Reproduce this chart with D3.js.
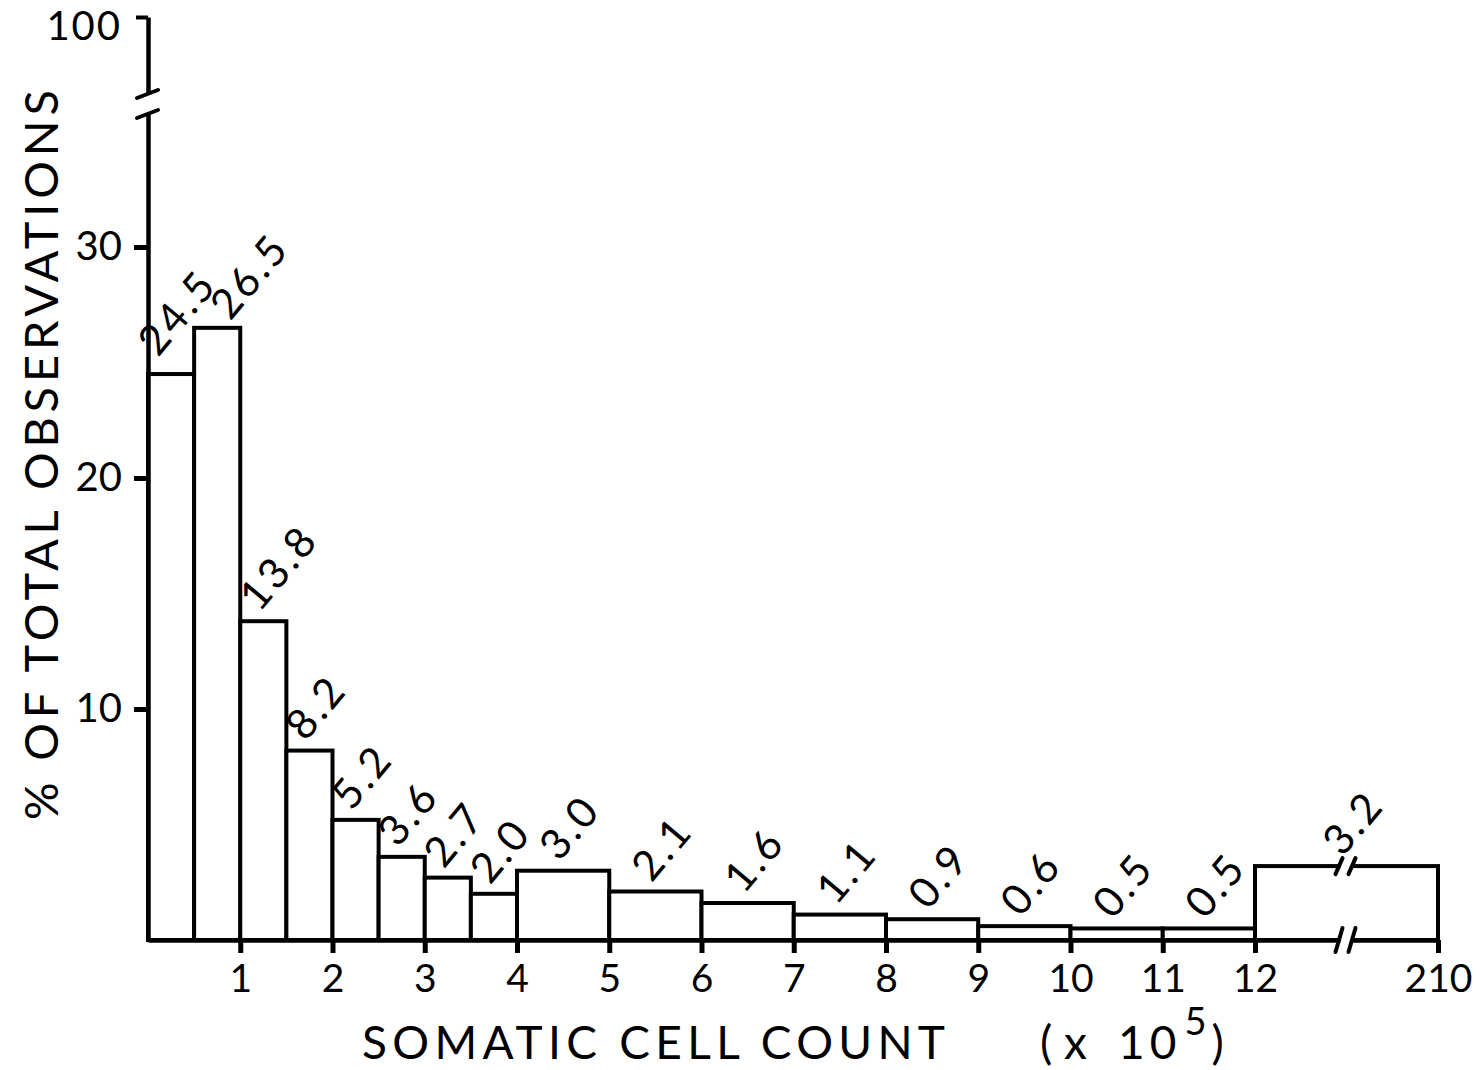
<!DOCTYPE html>
<html>
<head>
<meta charset="utf-8">
<script src="https://cdn.jsdelivr.net/npm/d3@7"></script>
<style>
  body { margin: 0; background: #fff; }
  svg { display: block; font-family: "Lato", "Liberation Sans", sans-serif; }
</style>
</head>
<body>
<div id="chart"></div>
<script>
// bin edges (x 10^5 cells) and % of observations per bin
const binEdges    = [0, 0.5, 1, 1.5, 2, 2.5, 3, 3.5, 4, 5, 6, 7, 8, 9, 10, 11, 12, 210];
const percents    = [24.5, 26.5, 13.8, 8.2, 5.2, 3.6, 2.7, 2.0, 3.0, 2.1, 1.6, 1.1, 0.9, 0.6, 0.5, 0.5, 3.2];
const valueLabels = ["24.5", "26.5", "13.8", "8.2", "5.2", "3.6", "2.7", "2.0", "3.0", "2.1", "1.6", "1.1", "0.9", "0.6", "0.5", "0.5", "3.2"];
const xTicks      = [1, 2, 3, 4, 5, 6, 7, 8, 9, 10, 11, 12, 210];
const yTicks      = [10, 20, 30];
const yTopTick    = [100];

const W = 1480, H = 1070;
const FONT = "Lato, 'Liberation Sans', sans-serif";
const svg = d3.select("#chart").append("svg").attr("width", W).attr("height", H);
svg.append("rect").attr("width", W).attr("height", H).attr("fill", "#fff");

// broken x scale: 0-12 linear, then one jump to 210
const x = d3.scaleLinear().domain([0, 12, 210]).range([148, 1255, 1438]);
// lower y segment runs up to the break, upper segment only carries 100
const y = d3.scaleLinear().domain([0, 35.8]).range([940, 113]);
const yHi = d3.scaleLinear().domain([96.5, 100]).range([93, 17]);

const bins = percents.map((v, i) => ({x0: binEdges[i], x1: binEdges[i + 1], v: v, label: valueLabels[i]}));

// label offsets: default just left of bar centre, pushed apart when a
// narrow bar is followed by a taller narrow bar (labels would collide)
bins.forEach(b => { b.dx = -4; b.dy = -8; });
bins.forEach((b, i) => {
  const n = bins[i + 1];
  if (!n) return;
  const narrow = (b.x1 - b.x0) < 1 && (n.x1 - n.x0) < 1;
  if (narrow && n.v > b.v) {
    b.dx = -13; b.dy = -16;
    n.dx = 13;  n.dy = -6;
  }
});

// bars
svg.append("g")
  .selectAll("rect")
  .data(bins)
  .join("rect")
    .attr("x", d => x(d.x0))
    .attr("y", d => y(d.v))
    .attr("width", d => x(d.x1) - x(d.x0))
    .attr("height", d => y(0) - y(d.v))
    .attr("fill", "#fff")
    .attr("stroke", "#000")
    .attr("stroke-width", 4);

// value labels, slanted
svg.append("g")
  .selectAll("text")
  .data(bins)
  .join("text")
    .attr("transform", d => {
      const cx = (x(d.x0) + x(d.x1)) / 2 + d.dx;
      const cy = y(d.v) + d.dy;
      return "translate(" + cx + "," + cy + ") rotate(-50)";
    })
    .attr("font-size", 42)
    .attr("letter-spacing", 3)
    .text(d => d.label);

// x axis
const xAxis = svg.append("g")
  .attr("transform", "translate(0," + y(0) + ")")
  .call(d3.axisBottom(x).tickValues(xTicks).tickFormat(d3.format("d")).tickSize(13).tickSizeOuter(0).tickPadding(11));
xAxis.select(".domain").attr("stroke-width", 4.5);
xAxis.selectAll(".tick line").attr("stroke-width", 5);
xAxis.selectAll(".tick text").attr("font-size", 39).attr("font-family", FONT).attr("fill", "#000");

// y axis (lower)
const yAxis = svg.append("g")
  .attr("transform", "translate(" + x(0) + ",0)")
  .call(d3.axisLeft(y).tickValues(yTicks).tickFormat(d3.format("d")).tickSize(14).tickSizeOuter(0).tickPadding(12));
yAxis.select(".domain").attr("stroke-width", 4.5);
yAxis.selectAll(".tick line").attr("stroke-width", 5);
yAxis.selectAll(".tick text").attr("font-size", 40).attr("font-family", FONT).attr("fill", "#000");

// y axis (upper piece, above the break)
const yAxisHi = svg.append("g")
  .attr("transform", "translate(" + x(0) + ",0)")
  .call(d3.axisLeft(yHi).tickValues(yTopTick).tickFormat(d3.format("d")).tickSize(12).tickSizeOuter(0).tickPadding(14));
yAxisHi.select(".domain").attr("stroke-width", 4.5);
yAxisHi.selectAll(".tick line").attr("stroke-width", 4);
yAxisHi.selectAll(".tick text").attr("font-size", 40).attr("font-family", FONT).attr("fill", "#000")
  .attr("y", 10).attr("letter-spacing", 2);

// break marks on y axis
const brk = svg.append("g").attr("stroke", "#000").attr("stroke-width", 4).attr("stroke-linecap", "round");
[yHi.range()[0], y.range()[1]].forEach(py => {
  brk.append("line")
    .attr("x1", x(0) - 11).attr("y1", py + 5)
    .attr("x2", x(0) + 10).attr("y2", py - 3);
});

// break marks on x axis and across the last bar
const last = bins[bins.length - 1];
const bx = (x(last.x0) + x(last.x1)) / 2;
[y(0), y(last.v)].forEach((py, i) => {
  svg.append("rect")
    .attr("x", bx - 6).attr("y", py - 4)
    .attr("width", 12).attr("height", 8)
    .attr("fill", "#fff");
  const h = i === 0 ? 12 : 8;
  [-7, 6].forEach(off => {
    brk.append("line")
      .attr("x1", bx + off - 4).attr("y1", py + h)
      .attr("x2", bx + off + 3).attr("y2", py - h);
  });
});
brk.raise();

// axis titles
svg.append("text")
  .attr("transform", "translate(58,455) rotate(-90)")
  .attr("text-anchor", "middle")
  .attr("font-size", 47)
  .attr("textLength", 730)
  .attr("lengthAdjust", "spacing")
  .text("% OF TOTAL OBSERVATIONS");

svg.append("text")
  .attr("x", 362).attr("y", 1059)
  .attr("font-size", 46)
  .attr("textLength", 583)
  .attr("lengthAdjust", "spacing")
  .text("SOMATIC  CELL COUNT");

const unit = svg.append("text")
  .attr("y", 1059)
  .attr("font-size", 46);
unit.append("tspan").attr("x", 1040).text("(");
unit.append("tspan").attr("x", 1064).text("x");
unit.append("tspan").attr("x", 1118).attr("letter-spacing", 5).text("10");
unit.append("tspan").attr("dx", 3).attr("dy", -24).attr("font-size", 38).text("5");
unit.append("tspan").attr("dx", 5).attr("dy", 24).text(")");
</script>
</body>
</html>
